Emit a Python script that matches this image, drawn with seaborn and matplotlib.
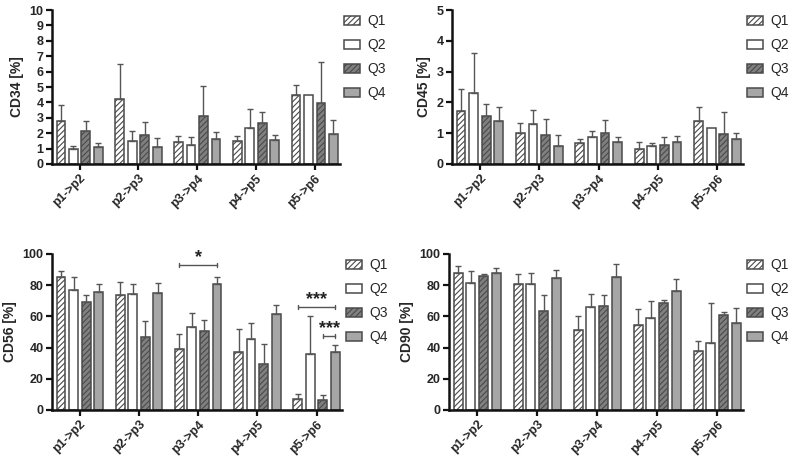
import matplotlib
matplotlib.use("Agg")
import matplotlib.pyplot as plt
import seaborn as sns
import pandas as pd
import numpy as np

transitions = ["p1->p2", "p2->p3", "p3->p4", "p4->p5", "p5->p6"]
quartiles = ["Q1", "Q2", "Q3", "Q4"]

# means per quartile (Q1..Q4), each list over transitions
cd34_mean = [[2.8, 4.25, 1.45, 1.5, 4.5],
             [1.0, 1.5, 1.25, 2.35, 4.45],
             [2.15, 1.9, 3.1, 2.65, 3.95],
             [1.1, 1.1, 1.6, 1.55, 1.95]]
cd34_err = [[1.0, 2.25, 0.35, 0.3, 0.6],
            [0.2, 0.65, 0.5, 1.25, 0.0],
            [0.65, 0.8, 1.95, 0.75, 2.7],
            [0.25, 0.6, 0.5, 0.35, 0.9]]

cd45_mean = [[1.72, 1.0, 0.68, 0.5, 1.4],
             [2.32, 1.3, 0.87, 0.6, 1.17],
             [1.55, 0.93, 1.02, 0.62, 0.97],
             [1.4, 0.6, 0.72, 0.72, 0.8]]
cd45_err = [[0.73, 0.33, 0.14, 0.22, 0.45],
            [1.28, 0.45, 0.2, 0.08, 0.0],
            [0.4, 0.52, 0.4, 0.26, 0.73],
            [0.45, 0.35, 0.16, 0.18, 0.22]]

cd56_mean = [[85, 74, 39, 37.5, 7],
             [77, 74.5, 53.5, 45.5, 36],
             [69, 46.5, 50.5, 29.5, 6.5],
             [75.5, 75, 81, 61.5, 37]]
cd56_err = [[4, 8, 9.5, 14.5, 3],
            [8, 6.5, 8.5, 10, 24],
            [4.5, 10.5, 7.5, 13, 3],
            [5.5, 6.5, 4, 6, 4.5]]

cd90_mean = [[88, 80.5, 51, 54.5, 38],
             [81.5, 81, 66, 59, 43],
             [86, 63.5, 66.5, 68.5, 61],
             [88, 84.5, 85, 76.5, 55.5]]
cd90_err = [[4, 7, 9, 10.5, 6.5],
            [7.5, 7, 8.5, 11, 25.5],
            [1.5, 10, 7, 2, 2],
            [3, 5, 8.5, 7.5, 10]]

# significance annotations for CD56: (quartile a, quartile b, transition index, level, text)
cd56_sig = [(0, 3, 2, 93, "*"), (0, 3, 4, 66, "***"), (2, 3, 4, 47.5, "***")]

panels = [
    ("CD34 [%]", cd34_mean, cd34_err, 10, 1),
    ("CD45 [%]", cd45_mean, cd45_err, 5, 1),
    ("CD56 [%]", cd56_mean, cd56_err, 100, 20),
    ("CD90 [%]", cd90_mean, cd90_err, 100, 20),
]

positions = [
    [52/800, 1-164/459, (340-52)/800, (164-10)/459],
    [452/800, 1-164/459, (743-452)/800, (164-10)/459],
    [52/800, 1-410/459, (342-52)/800, (410-254)/459],
    [449/800, 1-410/459, (743-449)/800, (410-254)/459],
]

sns.set_theme(style="ticks")
plt.rcParams["font.family"] = ["Liberation Sans", "DejaVu Sans"]
plt.rcParams["hatch.linewidth"] = 0.8

face = {"Q1": "#ffffff", "Q2": "#ffffff", "Q3": "#808080", "Q4": "#a6a6a6"}
hatch = {"Q1": "//////", "Q2": "", "Q3": "//////", "Q4": ""}
edge = "#4a4a4a"

fig = plt.figure(figsize=(8, 4.59), dpi=100)

for (label, means, errs, ymax, ystep), pos in zip(panels, positions):
    ax = fig.add_axes(pos)
    rows = []
    for qi, q in enumerate(quartiles):
        for ti, t in enumerate(transitions):
            rows.append({"transition": t, "quartile": q, "value": means[qi][ti]})
    df = pd.DataFrame(rows)
    sns.barplot(data=df, x="transition", y="value", hue="quartile",
                order=transitions, hue_order=quartiles, palette=face,
                errorbar=None, width=0.85, gap=0.3, edgecolor=edge,
                linewidth=1.1, legend=False, ax=ax)
    for qi, (q, cont) in enumerate(zip(quartiles, ax.containers)):
        cont.set_label(q)
        for ti, bar in enumerate(cont.patches):
            bar.set_hatch(hatch[q])
            bar.set_edgecolor(edge)
            e = errs[qi][ti]
            if e > 0:
                xc = bar.get_x() + bar.get_width() / 2
                ax.errorbar(xc, bar.get_height(), yerr=[[0], [e]], fmt="none",
                            ecolor="#555555", elinewidth=1.0, capsize=2.5,
                            capthick=1.0, zorder=1)
    ax.set_ylim(0, ymax)
    ax.set_yticks(np.arange(0, ymax + ystep / 2, ystep))
    ax.set_xlim(-0.47, 4.43)
    ax.set_xlabel("")
    ax.set_ylabel(label, fontsize=10, fontweight="bold", labelpad=4)
    for s in ["top", "right"]:
        ax.spines[s].set_visible(False)
    for s in ["left", "bottom"]:
        ax.spines[s].set_linewidth(1.8)
        ax.spines[s].set_color("#111111")
    ax.tick_params(axis="both", width=1.6, length=4, color="#111111",
                   labelsize=9, pad=2)
    for t in ax.get_yticklabels():
        t.set_fontweight("bold")
    ax.set_xticks(range(len(transitions)))
    ax.set_xticklabels(transitions, rotation=45, ha="right",
                       rotation_mode="anchor", fontweight="bold", fontsize=9)
    ax.legend(handles=ax.containers, labels=quartiles, loc="upper left",
              bbox_to_anchor=(1.0, 1.0), frameon=False, fontsize=10,
              handlelength=1.15, handleheight=0.6, labelspacing=0.72,
              handletextpad=0.55, borderaxespad=0.0, borderpad=0.3)

    if label == "CD56 [%]":
        c = ax.containers
        for qa, qb, ti, y, txt in cd56_sig:
            b1 = c[qa].patches[ti]
            b2 = c[qb].patches[ti]
            x1 = b1.get_x() + b1.get_width() / 2
            x2 = b2.get_x() + b2.get_width() / 2
            ax.plot([x1, x2], [y, y], color="#555555", lw=1.0, clip_on=False)
            ax.plot([x1, x1], [y - 1.5, y + 1.5], color="#555555", lw=1.0,
                    clip_on=False)
            ax.plot([x2, x2], [y - 1.5, y + 1.5], color="#555555", lw=1.0,
                    clip_on=False)
            ax.text((x1 + x2) / 2, y + 4.5, txt, ha="center", va="center",
                    fontsize=13, fontweight="bold", color="#222222")

fig.savefig("out.png", dpi=100)
